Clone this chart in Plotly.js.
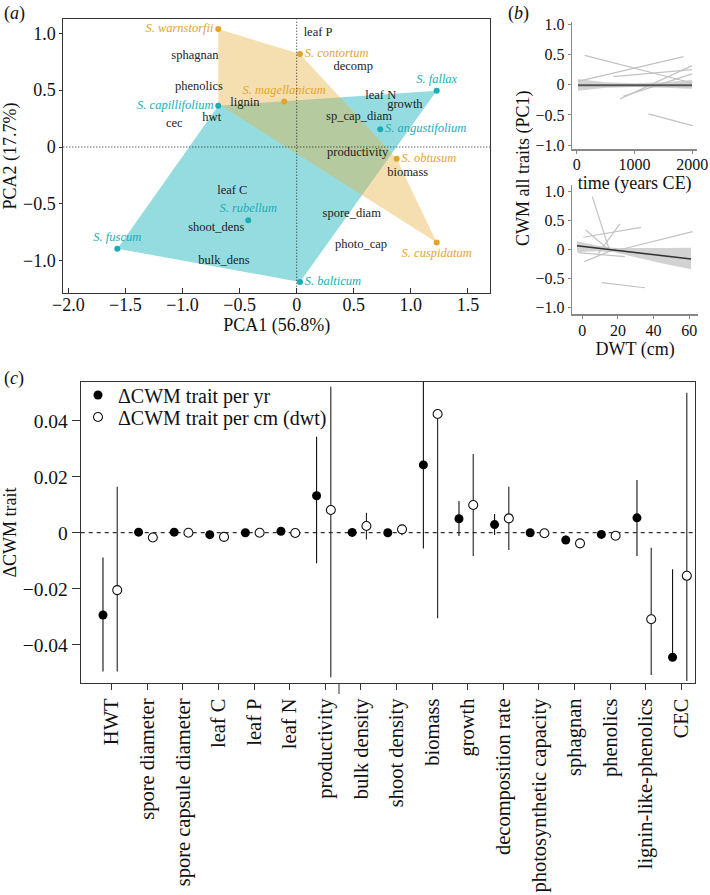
<!DOCTYPE html>
<html><head><meta charset="utf-8">
<script src="https://cdn.plot.ly/plotly-3.0.1.min.js"></script>
<style>html,body{margin:0;padding:0;background:#fff}#chart{width:710px;height:895px}</style>
</head><body><div id="chart"></div>
<script>
// ---------- Panel (a): PCA ----------
const speciesNames = ['S. warnstorfii','S. contortum','S. magellanicum','S. obtusum','S. cuspidatum',
                      'S. fallax','S. capillifolium','S. angustifolium','S. rubellum','S. fuscum','S. balticum'];
const speciesPC1 = [-0.687, 0.029, -0.109, 0.876, 1.226, 1.226, -0.687, 0.732, -0.424, -1.571, 0.029];
const speciesPC2 = [1.036, 0.817, 0.400, -0.103, -0.840, 0.495, 0.363, 0.155, -0.644, -0.893, -1.186];
const speciesGroup = ['o','o','o','o','o','t','t','t','t','t','t'];
const speciesLabelPos = ['middle left','middle right','top center','middle right','bottom center',
                         'top center','middle left','middle right','top center','top center','middle right'];

const orangeHullPC1 = [-0.687, 0.029, 0.876, 1.226, -0.687];
const orangeHullPC2 = [1.036, 0.817, -0.103, -0.840, 0.380];
const tealHullPC1 = [1.226, -0.687, -1.571, 0.029];
const tealHullPC2 = [0.495, 0.363, -0.893, -1.186];

const traitNames = ['leaf P','sphagnan','decomp','phenolics','lignin','leaf N','growth','sp_cap_diam','hwt','cec',
                    'productivity','biomass','leaf C','spore_diam','shoot_dens','photo_cap','bulk_dens'];
const traitPC1 = [0.187, -0.891, 0.496, -0.856, -0.453, 0.736, 0.948, 0.546, -0.744, -1.072,
                  0.534, 0.972, -0.564, 0.482, -0.704, 0.563, -0.637];
const traitPC2 = [0.999, 0.799, 0.705, 0.530, 0.390, 0.451, 0.366, 0.264, 0.255, 0.199,
                  -0.055, -0.226, -0.386, -0.591, -0.709, -0.861, -1.004];

// ---------- Panel (b): CWM vs time and DWT ----------
const timeSegX = [[139,1995],[23,1849],[631,1995],[748,1995],[805,1995],[1240,2005]];
const timeSegY = [[0.484,0.028],[0.055,0.463],[0.132,0.248],[-0.236,0.314],[-0.193,0.177],[-0.484,-0.678]];
const timeFitX = [23, 1995];
const timeFitY = [-0.01, -0.01];
const timeBandX = [23, 500, 1000, 1500, 1995];
const timeBandHi = [0.094, 0.04, 0.025, 0.04, 0.078];
const timeBandLo = [-0.099, -0.05, -0.04, -0.05, -0.066];

const dwtSegX = [[5.6,15.5],[0.6,32.9],[9.0,21.1],[1.9,15.5],[1.1,19.3],[-2.2,23.9],[10.9,35.2],[18.3,61.9]];
const dwtSegY = [[0.91,-0.038],[0.21,0.38],[-0.066,0.44],[0.336,-0.02],[-0.21,0.02],[-0.055,-0.124],[-0.57,-0.66],[-0.026,0.307]];
const dwtFitX = [-3, 61];
const dwtFitY = [0.065, -0.165];
const dwtBandX = [-3, 8, 18, 30, 45, 61];
const dwtBandHi = [0.14, 0.07, 0.025, 0.02, 0.025, 0.03];
const dwtBandLo = [-0.045, -0.03, -0.05, -0.13, -0.24, -0.34];

// ---------- Panel (c): delta CWM per trait ----------
const traitCategories = ['HWT','spore diameter','spore capsule diameter','leaf C','leaf P','leaf N','productivity',
  'bulk density','shoot density','biomass','growth','decomposition rate','photosynthetic capacity','sphagnan',
  'phenolics','lignin-like-phenolics','CEC'];
const perYr   = [-0.0294, 0.0002, 0.0002, -0.0007, 0.0000, 0.0005, 0.0132, 0.0001, 0.0000, 0.0242, 0.0050, 0.0029, 0.0000, -0.0026, -0.0006, 0.0053, -0.0445];
const perYrHi = [-0.0089, 0.0006, 0.0005, 0.0002, 0.0004, 0.0009, 0.0343, 0.0005, 0.0004, 0.0600, 0.0113, 0.0067, 0.0004, -0.0010, -0.0002, 0.0188, -0.0131];
const perYrLo = [-0.0496, -0.0002, -0.0001, -0.0016, -0.0004, 0.0001, -0.0109, -0.0003, -0.0004, -0.0056, -0.0012, -0.0008, -0.0004, -0.0040, -0.0010, -0.0083, -0.0445];
const perCm   = [-0.0205, -0.0017, 0.0000, -0.0015, 0.0000, -0.0001, 0.0081, 0.0024, 0.0012, 0.0424, 0.0099, 0.0051, -0.0002, -0.0038, -0.0011, -0.0309, -0.0154];
const perCmHi = [0.0164, -0.0005, 0.0004, 0.0000, 0.0003, 0.0002, 0.0521, 0.0071, 0.0027, 0.0424, 0.0281, 0.0164, 0.0002, -0.0030, -0.0005, -0.0054, 0.0500];
const perCmLo = [-0.0496, -0.0025, -0.0004, -0.0030, -0.0003, -0.0004, -0.0516, -0.0024, -0.0009, -0.0306, -0.0083, -0.0062, -0.0006, -0.0046, -0.0017, -0.0508, -0.0530];

// ---------- styles ----------
const SERIF = 'Liberation Serif, Times New Roman, serif';
const ORANGE = '#E2A52C', TEAL = '#19ADB5';
const FILLED_OFFSET = -0.245, OPEN_OFFSET = 0.155;

const traces = [];
traces.push({type:'scatter', mode:'lines', x: tealHullPC1, y: tealHullPC2, fill:'toself',
  fillcolor:'rgba(30,180,190,0.47)', line:{width:0, color:'rgba(0,0,0,0)'}, xaxis:'x', yaxis:'y', showlegend:false, hoverinfo:'skip'});
traces.push({type:'scatter', mode:'lines', x: orangeHullPC1, y: orangeHullPC2, fill:'toself',
  fillcolor:'rgba(230,175,60,0.40)', line:{width:0, color:'rgba(0,0,0,0)'}, xaxis:'x', yaxis:'y', showlegend:false, hoverinfo:'skip'});
traces.push({type:'scatter', mode:'text', x: traitPC1, y: traitPC2, text: traitNames, textposition:'middle center',
  textfont:{family:SERIF, size:12.5, color:'#222'}, xaxis:'x', yaxis:'y', showlegend:false, hoverinfo:'skip'});
['o','t'].forEach(g => {
  const idx = speciesGroup.map((v,i)=>v===g?i:-1).filter(i=>i>=0);
  const col = g==='o'?ORANGE:TEAL;
  traces.push({type:'scatter', mode:'markers+text',
    x: idx.map(i=>speciesPC1[i]), y: idx.map(i=>speciesPC2[i]),
    text: idx.map(i=>speciesNames[i]), textposition: idx.map(i=>speciesLabelPos[i]),
    marker:{size:6, color:col}, textfont:{family:SERIF, size:12.5, color:col, style:'italic'},
    xaxis:'x', yaxis:'y', showlegend:false, hoverinfo:'skip', cliponaxis:false});
});

traces.push({type:'scatter', mode:'lines', x: timeBandX.concat(timeBandX.slice().reverse()),
  y: timeBandHi.concat(timeBandLo.slice().reverse()), fill:'toself', fillcolor:'#d2d2d2',
  line:{width:0,color:'rgba(0,0,0,0)'}, xaxis:'x2', yaxis:'y2', showlegend:false, hoverinfo:'skip'});
timeSegX.forEach((sx,k)=>traces.push({type:'scatter', mode:'lines', x: sx, y: timeSegY[k],
  line:{color:'#c2c2c2', width:1.2}, xaxis:'x2', yaxis:'y2', showlegend:false, hoverinfo:'skip'}));
traces.push({type:'scatter', mode:'lines', x: timeFitX, y: timeFitY, line:{color:'#555', width:2},
  xaxis:'x2', yaxis:'y2', showlegend:false, hoverinfo:'skip'});

traces.push({type:'scatter', mode:'lines', x: dwtBandX.concat(dwtBandX.slice().reverse()),
  y: dwtBandHi.concat(dwtBandLo.slice().reverse()), fill:'toself', fillcolor:'#d2d2d2',
  line:{width:0,color:'rgba(0,0,0,0)'}, xaxis:'x3', yaxis:'y3', showlegend:false, hoverinfo:'skip'});
dwtSegX.forEach((sx,k)=>traces.push({type:'scatter', mode:'lines', x: sx, y: dwtSegY[k],
  line:{color:'#c2c2c2', width:1.2}, xaxis:'x3', yaxis:'y3', showlegend:false, hoverinfo:'skip'}));
traces.push({type:'scatter', mode:'lines', x: dwtFitX, y: dwtFitY, line:{color:'#333', width:1.6},
  xaxis:'x3', yaxis:'y3', showlegend:false, hoverinfo:'skip'});

const catIdx = traitCategories.map((c,i)=>i);
traces.push({type:'scatter', mode:'markers', name:'ΔCWM trait per yr', legend:'legend',
  x: catIdx.map(i=>i+FILLED_OFFSET), y: perYr,
  error_y:{type:'data', symmetric:false, array: perYr.map((v,i)=>perYrHi[i]-v), arrayminus: perYr.map((v,i)=>v-perYrLo[i]),
    width:0, thickness:1.1, color:'#111'},
  marker:{size:9, color:'#000', line:{width:0}}, xaxis:'x4', yaxis:'y4', showlegend:true});
traces.push({type:'scatter', mode:'markers', name:'ΔCWM trait per cm (dwt)', legend:'legend2',
  x: catIdx.map(i=>i+OPEN_OFFSET), y: perCm,
  error_y:{type:'data', symmetric:false, array: perCm.map((v,i)=>perCmHi[i]-v), arrayminus: perCm.map((v,i)=>v-perCmLo[i]),
    width:0, thickness:1.1, color:'#222'},
  marker:{size:9, color:'#fff', line:{width:1.1, color:'#111'}}, xaxis:'x4', yaxis:'y4', showlegend:true});

const W = 710, H = 895;
const px = v => v / W, py = v => 1 - v / H;

const axA = {showgrid:false, zeroline:false, showline:true, mirror:true, linecolor:'#333', linewidth:1,
  ticks:'inside', ticklen:5, tickcolor:'#333', tickfont:{family:SERIF, size:18, color:'#111'}};
const axB = {showgrid:false, zeroline:false, showline:true, linecolor:'#888', linewidth:1.6,
  ticks:'outside', ticklen:3, tickcolor:'#888', tickfont:{family:SERIF, size:16, color:'#111'}};
const legendBase = {xanchor:'left', yanchor:'middle', bgcolor:'rgba(0,0,0,0)', borderwidth:0,
  font:{family:SERIF, size:20, color:'#111'}, itemwidth:30};

const layout = {
  width: W, height: H, margin:{l:0,r:0,t:0,b:0}, paper_bgcolor:'#fff', plot_bgcolor:'rgba(0,0,0,0)',
  font:{family:SERIF, color:'#111'},
  xaxis: Object.assign({}, axA, {domain:[px(63.3), px(490)], range:[-2.044, 1.693], anchor:'y',
    tickvals:[-2,-1.5,-1,-0.5,0,0.5,1,1.5], ticktext:['\u22122.0','\u22121.5','\u22121.0','\u22120.5','0','0.5','1.0','1.5'],
    ticklabelstandoff:-4,
    title:{text:'PCA1 (56.8%)', font:{family:SERIF, size:18}, standoff:0}}),
  yaxis: Object.assign({}, axA, {domain:[py(292.7), py(19.3)], range:[-1.280, 1.122], anchor:'x',
    ticks:'outside', ticklen:3,
    tickvals:[-1,-0.5,0,0.5,1], ticktext:['\u22121.0','\u22120.5','0','0.5','1.0'],
    title:{text:'PCA2 (17.7%)', font:{family:SERIF, size:18}, standoff:6}}),
  xaxis2: Object.assign({}, axB, {domain:[px(572.3), px(697)], range:[-76, 2081], anchor:'y2',
    tickvals:[0,1000,2000], ticktext:['0','1000','2000'], ticklabelstandoff:-3,
    title:{text:'time (years CE)', font:{family:SERIF, size:18}, standoff:0}}),
  yaxis2: Object.assign({}, axB, {domain:[py(149), py(21.7)], range:[-1.063, 1.04], anchor:'x2',
    tickvals:[-1,-0.5,0,0.5,1], ticktext:['\u22121.0','\u22120.5','0','0.5','1.0']}),
  xaxis3: Object.assign({}, axB, {domain:[px(572.3), px(698)], range:[-5.6, 64.9], anchor:'y3',
    tickvals:[0,20,40,60], ticktext:['0','20','40','60'], ticklabelstandoff:-2,
    title:{text:'DWT (cm)', font:{family:SERIF, size:18}, standoff:0}}),
  yaxis3: Object.assign({}, axB, {domain:[py(314.3), py(185)], range:[-1.117, 1.11], anchor:'x3',
    tickvals:[-1,-0.5,0,0.5,1], ticktext:['\u22121.0','\u22120.5','0','0.5','1.0']}),
  xaxis4: {domain:[px(80.7), px(695)], range:[-0.871, 16.385], anchor:'y4', showgrid:false, zeroline:false,
    showline:true, mirror:true, linecolor:'#333', linewidth:1, ticks:'outside', ticklen:6, tickcolor:'#333',
    tickvals: catIdx, ticktext: traitCategories, tickangle:-90, tickfont:{family:SERIF, size:20.5, color:'#111'}},
  yaxis4: {domain:[py(683.3), py(381.7)], range:[-0.05379, 0.05393], anchor:'x4', showgrid:false, zeroline:false,
    showline:true, mirror:true, linecolor:'#333', linewidth:1, ticks:'outside', ticklen:8, tickcolor:'#333',
    tickvals:[-0.04,-0.02,0,0.02,0.04], ticktext:['\u22120.04','\u22120.02','0','0.02','0.04'],
    tickfont:{family:SERIF, size:19.5, color:'#111'},
    title:{text:'ΔCWM trait', font:{family:SERIF, size:18}, standoff:6}},
  showlegend:true,
  legend: Object.assign({}, legendBase, {x:px(78), y:py(395)}),
  legend2: Object.assign({}, legendBase, {x:px(78), y:py(417)}),
  shapes:[
    {type:'line', xref:'x domain', x0:0, x1:1, yref:'y', y0:0, y1:0, line:{color:'#222', width:1, dash:'1px,2px'}},
    {type:'line', yref:'y domain', y0:0, y1:1, xref:'x', x0:0, x1:0, line:{color:'#222', width:1, dash:'1px,2px'}},
    {type:'line', xref:'x4 domain', x0:0, x1:1, yref:'y4', y0:0, y1:0, line:{color:'#333', width:1.2, dash:'4px,4px'}, layer:'below'},
    {type:'line', xref:'x4', x0:6.385, x1:6.385, yref:'paper', y0:py(683.3), y1:py(694), line:{color:'#333', width:1}}
  ],
  annotations:[
    {text:'(<i>a</i>)', xref:'paper', yref:'paper', x:px(2), y:py(1), xanchor:'left', yanchor:'top', showarrow:false, font:{family:SERIF, size:18}},
    {text:'(<i>b</i>)', xref:'paper', yref:'paper', x:px(506), y:py(1), xanchor:'left', yanchor:'top', showarrow:false, font:{family:SERIF, size:18}},
    {text:'(<i>c</i>)', xref:'paper', yref:'paper', x:px(2), y:py(366), xanchor:'left', yanchor:'top', showarrow:false, font:{family:SERIF, size:18}},
    {text:'CWM all traits (PC1)', xref:'paper', yref:'paper', x:px(523), y:py(168), xanchor:'center', yanchor:'middle', textangle:-90, showarrow:false, font:{family:SERIF, size:18}}
  ]
};

Plotly.newPlot('chart', traces, layout, {displayModeBar:false, staticPlot:true});
</script></body></html>
